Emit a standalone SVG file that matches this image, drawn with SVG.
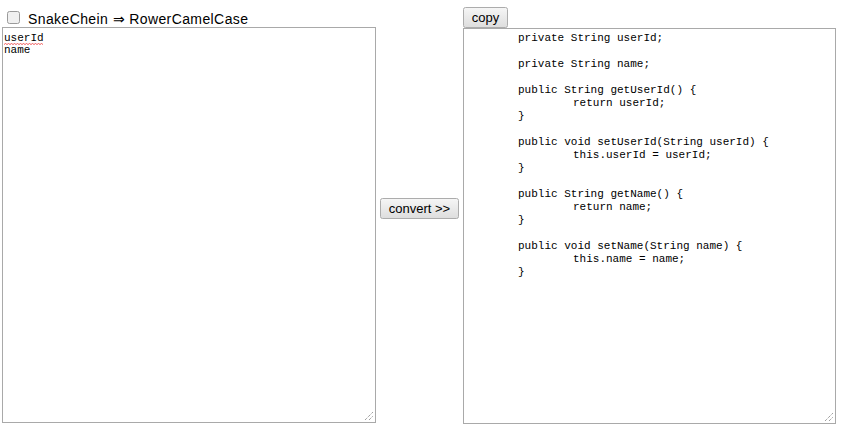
<svg xmlns="http://www.w3.org/2000/svg" width="850" height="428" viewBox="0 0 850 428">
<defs>
<linearGradient id="btn" x1="0" y1="0" x2="0" y2="1">
<stop offset="0" stop-color="#f6f6f6"/>
<stop offset="1" stop-color="#dddddd"/>
</linearGradient>
</defs>
<style>
.ta{fill:#fff;stroke:#a9a9a9;stroke-width:1}
.btn{fill:url(#btn);stroke:#acacac;stroke-width:1}
.bt{font-family:"Liberation Sans",Arial,sans-serif;font-size:13px;fill:#000}
.code{font-family:"Liberation Mono","DejaVu Sans Mono",monospace;font-size:11px;fill:#000}
.lbl{font-family:"Liberation Sans",Arial,sans-serif;font-size:14px;fill:#000}
.grip{stroke:#777;stroke-width:1;stroke-dasharray:1 1}
</style>
<rect width="850" height="428" fill="#fff"/>
<g id="checkbox">
<rect x="7.5" y="11.5" width="12" height="12" rx="2" fill="#f0f0f0" stroke="#9a9a9a"/>
<text class="lbl" x="28" y="24" textLength="220" lengthAdjust="spacing">SnakeChein ⇒ RowerCamelCase</text>
</g>
<g id="input">
<rect class="ta" x="2.5" y="27.5" width="373" height="395"/>
<text class="code" x="4" y="41">userId</text>
<text class="code" x="4" y="53">name</text>
<path d="M4 44.5 l1.5 -1 l1.5 1 l1.5 -1 l1.5 1 l1.5 -1 l1.5 1 l1.5 -1 l1.5 1 l1.5 -1 l1.5 1 l1.5 -1 l1.5 1 l1.5 -1 l1.5 1 l1.5 -1 l1.5 1 l1.5 -1 l1.5 1 l1.5 -1 l1.5 1 l1.5 -1 l1.5 1 l1.5 -1 l1.5 1 l1.5 -1 l1.5 1" fill="none" stroke="#e33" stroke-width="0.8"/>
<line class="grip" x1="365" y1="420" x2="373" y2="412"/>
<line class="grip" x1="369" y1="420" x2="373" y2="416"/>
</g>
<g id="convert">
<rect class="btn" x="380.5" y="198.5" width="78" height="20" rx="2"/>
<text class="bt" x="419.5" y="213" text-anchor="middle">convert &gt;&gt;</text>
</g>
<g id="copy">
<rect class="btn" x="463.5" y="7.5" width="44" height="20" rx="2"/>
<text class="bt" x="485.5" y="22" text-anchor="middle">copy</text>
</g>
<g id="output">
<rect class="ta" x="463.5" y="28.5" width="372" height="395"/>
<text class="code">
<tspan x="518" y="41">private String userId;</tspan>
<tspan x="518" y="67">private String name;</tspan>
<tspan x="518" y="93">public String getUserId() {</tspan>
<tspan x="573" y="106">return userId;</tspan>
<tspan x="518" y="119">}</tspan>
<tspan x="518" y="145">public void setUserId(String userId) {</tspan>
<tspan x="573" y="158">this.userId = userId;</tspan>
<tspan x="518" y="171">}</tspan>
<tspan x="518" y="197">public String getName() {</tspan>
<tspan x="573" y="210">return name;</tspan>
<tspan x="518" y="223">}</tspan>
<tspan x="518" y="249">public void setName(String name) {</tspan>
<tspan x="573" y="262">this.name = name;</tspan>
<tspan x="518" y="275">}</tspan>
</text>
<line class="grip" x1="825" y1="421" x2="833" y2="413"/>
<line class="grip" x1="829" y1="421" x2="833" y2="417"/>
</g>
</svg>
